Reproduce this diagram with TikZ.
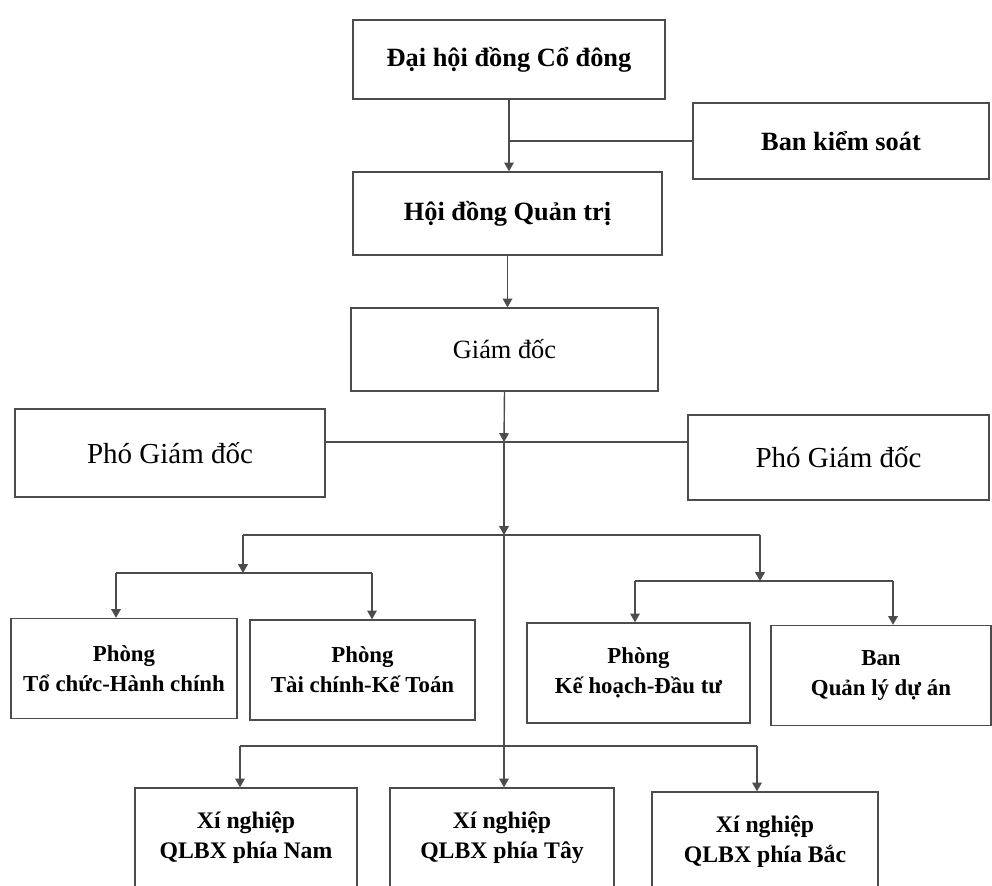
\documentclass[tikz,border=0pt]{standalone}
\usepackage{fontspec}
\setmainfont{Liberation Serif}
\usetikzlibrary{arrows.meta,positioning}

\begin{document}
\begin{tikzpicture}[x=0.02cm,y=-0.02cm,
  box/.style={draw=black!70, line width=0.8pt, rectangle, align=center, inner sep=0pt},
  topbox/.style={box, font=\fontsize{15}{18}\selectfont\bfseries},
  vicebox/.style={box, font=\fontsize{16.5}{19}\selectfont},
  deptbox/.style={box, font=\fontsize{13}{17}\selectfont\bfseries, minimum height=2cm},
  line/.style={draw=black!70, line width=0.8pt},
  arr/.style={line, -{Triangle[width=5.5pt,length=5pt]}}]

\clip (0,0) rectangle (992,886);

% Top of the chart
\node[topbox, minimum width=6.24cm, minimum height=1.58cm] (dhcd) at (509,59.5) {Đại hội đồng Cổ đông};
\node[topbox, minimum width=5.92cm, minimum height=1.52cm] (bks) at (841,141) {Ban kiểm soát};
\node[topbox, minimum width=6.18cm, minimum height=1.66cm] (hdqt) at (507.5,213.5) {Hội đồng Quản trị};
\node[box, font=\fontsize{15}{18}\selectfont, minimum width=6.14cm, minimum height=1.66cm] (gd) at (504.5,349.5) {Giám đốc};

% Deputy directors
\node[vicebox, minimum width=6.2cm, minimum height=1.76cm] (pgdA) at (170,453) {Phó Giám đốc};
\node[vicebox, minimum width=6.02cm, minimum height=1.7cm] (pgdB) at (838.5,457.5) {Phó Giám đốc};

% Departments
\node[deptbox, minimum width=4.52cm] (tchc) at (124,668.5) {Phòng\\Tổ chức-Hành chính};
\node[deptbox, minimum width=4.5cm] (tckt) at (362.5,670) {Phòng\\Tài chính-Kế Toán};
\node[deptbox, minimum width=4.46cm] (khdt) at (638.5,673) {Phòng\\Kế hoạch-Đầu tư};
\node[deptbox, minimum width=4.4cm] (qlda) at (881,675.5) {Ban\\Quản lý dự án};

% Enterprises
\foreach \n/\x/\y/\w/\t in {nam/246/838/4.44/Nam, tay/502/838/4.48/Tây, bac/765/842/4.52/Bắc} {
    \node[deptbox, font=\fontsize{13.5}{17}\selectfont\bfseries, minimum width=\w cm] (\n) at (\x,\y) {Xí nghiệp\\QLBX phía \t};
}

% Junction points
\coordinate (j1) at (504,442);
\coordinate (j2) at (504,535);
\coordinate (bl) at (243,535);
\coordinate (br) at (760,535);
\coordinate (sl) at (243,573);
\coordinate (slA) at (116,573);
\coordinate (slB) at (372,573);
\coordinate (sr) at (760,581);
\coordinate (srA) at (635,581);
\coordinate (srB) at (893,581);
\coordinate (blx) at (240,746);
\coordinate (brx) at (757,746);

% Board connectors
\draw[arr] (dhcd.south) -- (dhcd.south |- hdqt.north);
\draw[line] (bks.west) -- (bks.west -| dhcd.south);
\draw[arr] (hdqt.south) -- (hdqt.south |- gd.north);

% Main line down from the director
\draw[arr] (gd.south) -- (j1);
\draw[arr] (j1) -- (j2);
\draw[arr] (j2) -- (j2 |- tay.north);
\draw[line] (pgdA.east |- j1) -- (pgdB.west |- j1);

% Departments branch
\draw[line] (bl) -- (br);
\draw[arr] (bl) -- (sl);
\draw[line] (slA) -- (slB);
\draw[arr] (slA) -- (slA |- tchc.north);
\draw[arr] (slB) -- (slB |- tckt.north);
\draw[arr] (br) -- (sr);
\draw[line] (srA) -- (srB);
\draw[arr] (srA) -- (srA |- khdt.north);
\draw[arr] (srB) -- (srB |- qlda.north);

% Enterprises branch
\draw[line] (blx) -- (brx);
\draw[arr] (blx) -- (blx |- nam.north);
\draw[arr] (brx) -- (brx |- bac.north);

\end{tikzpicture}
\end{document}
